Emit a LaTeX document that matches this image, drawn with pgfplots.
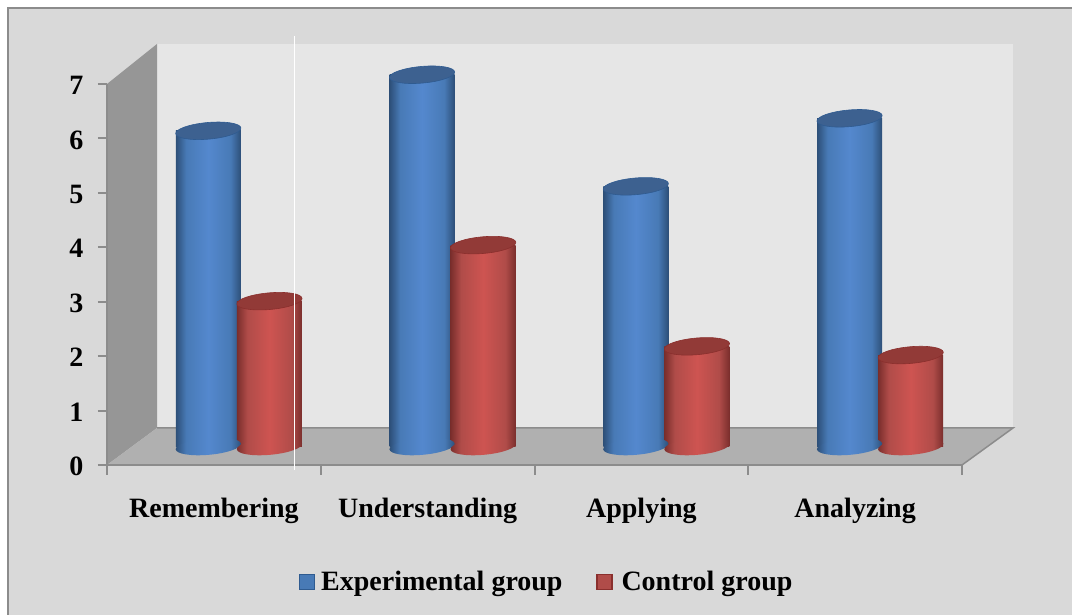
\documentclass[border=0pt]{standalone}
\usepackage{fontspec}
\setmainfont{Liberation Serif}
\usepackage{pgfplots}
\usepackage{pgfplotstable}
\pgfplotsset{compat=1.18}

\definecolor{bgcol}{HTML}{D9D9D9}
\definecolor{framecol}{HTML}{8C8C8C}
\definecolor{backwall}{HTML}{E6E6E6}
\definecolor{sidewall}{HTML}{969696}
\definecolor{floorcol}{HTML}{B0B0B0}
\definecolor{bluea}{HTML}{2D4F78}
\definecolor{blueb}{HTML}{487AB6}
\definecolor{bluec}{HTML}{5488CE}
\definecolor{bluecap}{HTML}{3D6190}
\definecolor{blueedge}{HTML}{2F5B90}
\definecolor{reda}{HTML}{7A2E2C}
\definecolor{redb}{HTML}{B04C49}
\definecolor{redc}{HTML}{CE5451}
\definecolor{redcap}{HTML}{923A37}
\definecolor{rededge}{HTML}{8A2F2D}

\pgfdeclarehorizontalshading{bluecyl}{100bp}{color(0bp)=(bluea); color(25bp)=(bluea); color(33bp)=(blueb); color(50bp)=(bluec); color(67bp)=(blueb); color(75bp)=(bluea); color(100bp)=(bluea)}
\pgfdeclarehorizontalshading{redcyl}{100bp}{color(0bp)=(reda); color(25bp)=(reda); color(33bp)=(redb); color(50bp)=(redc); color(67bp)=(redb); color(75bp)=(reda); color(100bp)=(reda)}

% cylinder ends, tilted ellipses
\newcommand{\tiltedcap}{\pgfpathellipse{\pgfpointorigin}{\pgfqpoint{32.6pt}{2.85pt}}{\pgfqpoint{-0.7pt}{8.3pt}}}
\pgfdeclareplotmark{topblue}{\pgfsetlinewidth{0.6pt}\pgfsetfillcolor{bluecap}\pgfsetstrokecolor{blueedge}\tiltedcap\pgfusepathqfillstroke}
\pgfdeclareplotmark{topred}{\pgfsetlinewidth{0.6pt}\pgfsetfillcolor{redcap}\pgfsetstrokecolor{rededge}\tiltedcap\pgfusepathqfillstroke}
\pgfdeclareplotmark{botblue}{\tiltedcap\pgfshadepath{bluecyl}{0}\pgfusepath{discard}}
\pgfdeclareplotmark{botred}{\tiltedcap\pgfshadepath{redcyl}{0}\pgfusepath{discard}}

% x positions are category -/+ half a cylinder spacing
\pgfplotstableread{
xb xr exp ctrl base
-0.143 0.143 5.80 2.67 0
0.857 1.143 6.83 3.70 0
1.857 2.143 4.78 1.84 0
2.857 3.143 6.03 1.68 0
}\datatable

\pgfplotsset{
  blueshade/.style={ybar, bar width=65pt, bar shift=0pt, draw=none, shade, shading=bluecyl, forget plot},
  redshade/.style={ybar, bar width=65pt, bar shift=0pt, draw=none, shade, shading=redcyl, forget plot},
}

\begin{document}
\begin{tikzpicture}[x=1pt,y=1pt]
\path[use as bounding box] (0,0) rectangle (1072,615);
\fill[bgcol] (8,0) rectangle (1072,607);
\draw[framecol,line width=2pt] (8,0) -- (8,607) -- (1072,607);

% walls of the 3D box
\fill[backwall] (157,187) rectangle (1013,571);
\fill[sidewall] (107,150) -- (107,531) -- (157,571) -- (157,187) -- cycle;
\fill[floorcol] (107,150) -- (157,187) -- (1013,187) -- (962,150) -- cycle;
\draw[framecol,line width=1.5pt] (962,150) -- (1013,187) -- (157,187);

% front axis: ticks, labels, legend
\begin{axis}[
    at={(107pt,150pt)}, anchor=south west,
    scale only axis, width=855pt, height=381pt,
    xmin=-0.5, xmax=3.5, ymin=0, ymax=7,
    axis x line=bottom, axis y line=left,
    axis line style={framecol,line width=2pt,-},
    xtick={0,1,2,3},
    xticklabels={Remembering,Understanding,Applying,Analyzing},
    minor xtick={-0.5,0.5,1.5,2.5,3.5},
    ytick={0,1,...,7},
    tick style={framecol,line width=2pt},
    major x tick style={draw=none},
    tick align=outside,
    major tick length=9pt, minor tick length=10pt,
    /pgf/number format/assume math mode=true,
    tick label style={font=\fontsize{28}{30}\selectfont\bfseries,black},
    xticklabel style={yshift=-21pt},
    yticklabel style={xshift=-11pt,yshift=-1.5pt},
    legend style={
        at={(0.2205,-0.307)}, anchor=west,
        legend columns=2, draw=none, fill=none,
        font=\fontsize{28}{30}\selectfont\bfseries,
        /tikz/every even column/.append style={column sep=29pt},
        nodes={inner sep=4.5pt},
    },
]
\addlegendimage{legend image code/.code={\draw[blueedge,fill=blueb,line width=1.5pt] (0pt,-7.5pt) rectangle (15pt,7.5pt); \path (17pt,0pt);}}
\addlegendentry{Experimental group}
\addlegendimage{legend image code/.code={\draw[rededge,fill=redb,line width=1.5pt] (0pt,-7.5pt) rectangle (15pt,7.5pt); \path (20pt,0pt);}}
\addlegendentry{Control group}
\end{axis}

% cylinders stand half way into the box
\begin{axis}[
    at={(132pt,168.5pt)}, anchor=south west,
    scale only axis, width=855pt, height=381pt,
    xmin=-0.5, xmax=3.5, ymin=0, ymax=7,
    axis lines=none, clip=false,
]
\addplot[only marks, mark=botblue, forget plot] table[x=xb,y=base] {\datatable};
\addplot[blueshade] coordinates {(-0.143,5.80)};
\addplot[blueshade] coordinates {(0.857,6.83)};
\addplot[blueshade] coordinates {(1.857,4.78)};
\addplot[blueshade] coordinates {(2.857,6.03)};
\addplot[only marks, mark=topblue, forget plot] table[x=xb,y=exp] {\datatable};
\addplot[only marks, mark=botred, forget plot] table[x=xr,y=base] {\datatable};
\addplot[redshade] coordinates {(0.143,2.67)};
\addplot[redshade] coordinates {(1.143,3.70)};
\addplot[redshade] coordinates {(2.143,1.84)};
\addplot[redshade] coordinates {(3.143,1.68)};
\addplot[only marks, mark=topred, forget plot] table[x=xr,y=ctrl] {\datatable};
\end{axis}

\draw[white,line width=1pt] (294.5,145) -- (294.5,579);
\end{tikzpicture}
\end{document}
